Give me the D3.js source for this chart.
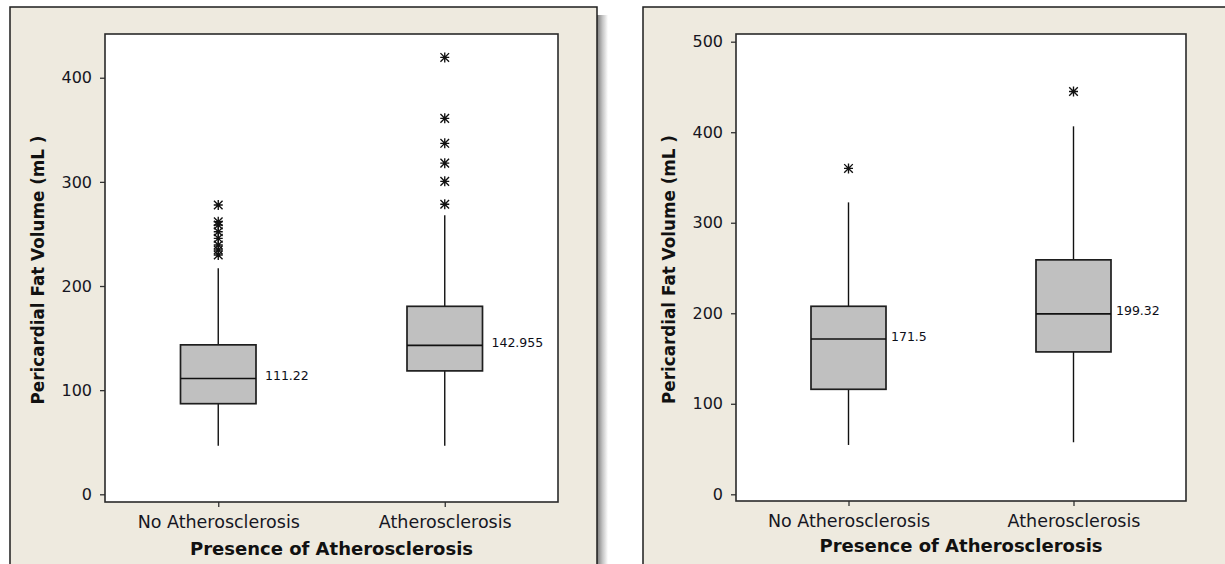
<!DOCTYPE html>
<html>
<head>
<meta charset="utf-8">
<script src="https://cdn.jsdelivr.net/npm/d3@7"></script>
<style>
  html, body { margin: 0; padding: 0; background: #ffffff; }
  svg { display: block; }
  text { font-family: "DejaVu Sans", Verdana, sans-serif; }
</style>
</head>
<body>
<svg id="chart" width="1225" height="564"></svg>
<script>
// ---------- DATA ----------
const categories = ["No Atherosclerosis", "Atherosclerosis"];

// Left panel
const leftQ1 = [87.0, 118.5];
const leftMedian = [111.22, 142.955];
const leftQ3 = [143.5, 180.5];
const leftWhiskerLow = [46.5, 46.5];
const leftWhiskerHigh = [217.0, 268.0];
const leftOutliers = [
  [229.8, 234.6, 239.4, 245.8, 252.1, 258.6, 261.7, 277.8],
  [278.5, 300.5, 318.0, 337.0, 361.0, 419.5]
];
const leftTicks = [0, 100, 200, 300, 400];
const leftDomain = [-7.4, 442];

// Right panel
const rightQ1 = [116.0, 157.3];
const rightMedian = [171.5, 199.32];
const rightQ3 = [207.7, 259.0];
const rightWhiskerLow = [54.5, 57.5];
const rightWhiskerHigh = [322.5, 406.5];
const rightOutliers = [
  [360.0],
  [445.0]
];
const rightTicks = [0, 100, 200, 300, 400, 500];
const rightDomain = [-7.4, 508.5];

const yTitle = "Pericardial Fat Volume (mL )";
const xTitle = "Presence of Atherosclerosis";

// ---------- DRAW ----------
const svg = d3.select("#chart");
const defs = svg.append("defs");
const grad = defs.append("linearGradient").attr("id", "shadowGrad")
  .attr("x1", "0").attr("x2", "1").attr("y1", "0").attr("y2", "0");
grad.append("stop").attr("offset", "0").attr("stop-color", "#7a7a7a");
grad.append("stop").attr("offset", "0.5").attr("stop-color", "#c4c4c4");
grad.append("stop").attr("offset", "1").attr("stop-color", "#ffffff");

function drawPanel(cfg) {
  const g = svg.append("g");
  if (cfg.shadow) {
    g.append("rect")
      .attr("x", cfg.frame.x + cfg.frame.w).attr("y", cfg.frame.y + 8)
      .attr("width", 11).attr("height", cfg.frame.h)
      .attr("fill", "url(#shadowGrad)");
  }
  g.append("rect")
    .attr("x", cfg.frame.x).attr("y", cfg.frame.y)
    .attr("width", cfg.frame.w).attr("height", cfg.frame.h)
    .attr("fill", "#eeeadf").attr("stroke", "#1e1e1e").attr("stroke-width", 1.5);

  const x = d3.scalePoint().domain(categories)
    .range([cfg.plot.x0, cfg.plot.x1]).padding(0.5);
  const y = d3.scaleLinear().domain(cfg.domain)
    .range([cfg.plot.y1, cfg.plot.y0]);
  const boxW = x.step() / 3;

  g.append("rect")
    .attr("x", cfg.plot.x0).attr("y", cfg.plot.y0)
    .attr("width", cfg.plot.x1 - cfg.plot.x0)
    .attr("height", cfg.plot.y1 - cfg.plot.y0)
    .attr("fill", "#ffffff");

  const yAxis = g.append("g")
    .attr("transform", `translate(${cfg.plot.x0},0)`)
    .call(d3.axisLeft(y).tickValues(cfg.ticks).tickSize(5).tickSizeOuter(0).tickPadding(8));
  yAxis.select(".domain").remove();
  yAxis.selectAll(".tick line").attr("stroke", "#333").attr("stroke-width", 1.3);
  yAxis.selectAll(".tick text")
    .attr("font-size", 16).attr("fill", "#161622")
    .attr("font-family", "DejaVu Sans, Verdana, sans-serif");

  const xAxis = g.append("g")
    .attr("transform", `translate(0,${cfg.plot.y1})`)
    .call(d3.axisBottom(x).tickSize(5).tickSizeOuter(0).tickPadding(9));
  xAxis.select(".domain").remove();
  xAxis.selectAll(".tick line").attr("stroke", "#333").attr("stroke-width", 1.3);
  xAxis.selectAll(".tick text")
    .attr("font-size", 17.5).attr("fill", "#161622")
    .attr("font-family", "DejaVu Sans, Verdana, sans-serif");

  g.append("rect")
    .attr("x", cfg.plot.x0).attr("y", cfg.plot.y0)
    .attr("width", cfg.plot.x1 - cfg.plot.x0)
    .attr("height", cfg.plot.y1 - cfg.plot.y0)
    .attr("fill", "none").attr("stroke", "#2a2a2a").attr("stroke-width", 1.6);

  categories.forEach((c, i) => {
    const cx = x(c);
    g.append("line").attr("x1", cx).attr("x2", cx)
      .attr("y1", y(cfg.q3[i])).attr("y2", y(cfg.wHigh[i]))
      .attr("stroke", "#111").attr("stroke-width", 1.4);
    g.append("line").attr("x1", cx).attr("x2", cx)
      .attr("y1", y(cfg.q1[i])).attr("y2", y(cfg.wLow[i]))
      .attr("stroke", "#111").attr("stroke-width", 1.4);
    g.append("rect")
      .attr("x", cx - boxW / 2).attr("y", y(cfg.q3[i]))
      .attr("width", boxW).attr("height", y(cfg.q1[i]) - y(cfg.q3[i]))
      .attr("fill", "#c0c0c0").attr("stroke", "#1e1e1e").attr("stroke-width", 1.7);
    g.append("line")
      .attr("x1", cx - boxW / 2).attr("x2", cx + boxW / 2)
      .attr("y1", y(cfg.median[i])).attr("y2", y(cfg.median[i]))
      .attr("stroke", "#111").attr("stroke-width", 1.6);
    g.append("text")
      .attr("x", cx + boxW / 2 + cfg.labelGap)
      .attr("y", y(cfg.median[i]))
      .attr("dy", "0.12em")
      .attr("font-size", 12.5).attr("fill", "#0e0e18")
      .text(String(cfg.median[i]));
    cfg.outliers[i].forEach(v => {
      const oy = y(v);
      const s = 5;
      g.append("path")
        .attr("d", `M${cx},${oy - s}L${cx},${oy + s}` +
                   `M${cx - 4.3},${oy - 4.3}L${cx + 4.3},${oy + 4.3}` +
                   `M${cx - 4.3},${oy + 4.3}L${cx + 4.3},${oy - 4.3}` +
                   `M${cx - 4.5},${oy}L${cx + 4.5},${oy}`)
        .attr("stroke", "#111").attr("stroke-width", 1.35).attr("fill", "none");
    });
  });

  g.append("text")
    .attr("transform", `translate(${cfg.yTitleX},${(cfg.plot.y0 + cfg.plot.y1) / 2 + 2}) rotate(-90)`)
    .attr("text-anchor", "middle").attr("dominant-baseline", "central")
    .attr("font-size", 16.8).attr("font-weight", "bold").attr("fill", "#111")
    .text(yTitle);
  g.append("text")
    .attr("x", (cfg.plot.x0 + cfg.plot.x1) / 2).attr("y", cfg.xTitleY)
    .attr("text-anchor", "middle")
    .attr("font-size", 18).attr("font-weight", "bold").attr("fill", "#111")
    .text(xTitle);
}

drawPanel({
  frame: { x: 10, y: 7, w: 587, h: 600 },
  plot: { x0: 105, x1: 558, y0: 34, y1: 502 },
  domain: leftDomain, ticks: leftTicks,
  q1: leftQ1, median: leftMedian, q3: leftQ3,
  wLow: leftWhiskerLow, wHigh: leftWhiskerHigh, outliers: leftOutliers,
  yTitleX: 38, xTitleY: 555, labelGap: 9, shadow: true
});

drawPanel({
  frame: { x: 643, y: 7, w: 620, h: 600 },
  plot: { x0: 736, x1: 1186, y0: 34, y1: 501 },
  domain: rightDomain, ticks: rightTicks,
  q1: rightQ1, median: rightMedian, q3: rightQ3,
  wLow: rightWhiskerLow, wHigh: rightWhiskerHigh, outliers: rightOutliers,
  yTitleX: 669, xTitleY: 552, labelGap: 5, shadow: false
});
</script>
</body>
</html>
